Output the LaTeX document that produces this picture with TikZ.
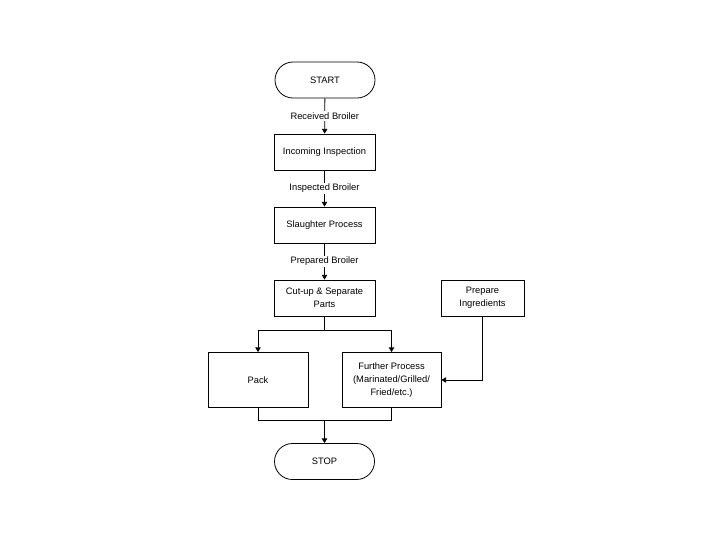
\documentclass[tikz,border=0pt]{standalone}
\usepackage{fontspec}
\setmainfont{Liberation Sans}
\usetikzlibrary{arrows.meta}

\tikzset{
  terminal/.style={draw, rounded corners=13.5pt, minimum width=75pt, minimum height=27pt, inner sep=0.75pt},
  procbox/.style={draw, minimum width=75.75pt, minimum height=27pt, align=center, inner sep=0.75pt},
  flowlabel/.style={fill=white, inner sep=1pt},
  flow/.style={-{Triangle[length=3.5pt,width=4pt]}}
}

\begin{document}
\begin{tikzpicture}[x=0.75pt,y=0.75pt,yscale=-1,xscale=1,line width=0.6pt,font=\fontsize{7}{10}\selectfont]
%set diagram left start at 0, and has height of 540
\path[use as bounding box] (0,0) rectangle (720,540);

%Flowchart: Terminator
\node (start) [terminal] at (325,80) {START};
%Flowchart: Process
\node (incoming) [procbox] at (324.5,152) {Incoming Inspection};
%Flowchart: Process
\node (slaughter) [procbox] at (324.5,225) {Slaughter Process};
%Flowchart: Process
\node (cutup) [procbox] at (324.5,298) {Cut-up \& Separate\\Parts};
%Flowchart: Process
\node (prep) [procbox, minimum width=62.25pt] at (482.5,298) {Prepare\\Ingredients};
%Flowchart: Process
\node (pack) [procbox, minimum width=75pt, minimum height=41.25pt] at (258,380) {Pack};
%Flowchart: Process
\node (further) [procbox, minimum width=74.25pt, minimum height=41.25pt] at (391.5,380) {Further Process\\(Marinated/Grilled/\\Fried/etc.)};
%Flowchart: Terminator
\node (stop) [terminal] at (324.5,461.5) {STOP};

%Branch points
\coordinate (split) at (324.5,330);
\coordinate (join) at (324.5,420);

%Straight Lines
\draw [flow] (start) -- node [flowlabel] {Received Broiler} (incoming);
\draw [flow] (incoming) -- node [flowlabel] {Inspected Broiler} (slaughter);
\draw [flow] (slaughter) -- node [flowlabel] {Prepared Broiler} (cutup);
\draw (cutup) -- (split);
\draw [flow] (split) -| (pack);
\draw [flow] (split) -| (further);
\draw [flow] (prep) |- (further);
\draw (pack) |- (join) -| (further);
\draw [flow] (join) -- (stop);

\end{tikzpicture}
\end{document}
